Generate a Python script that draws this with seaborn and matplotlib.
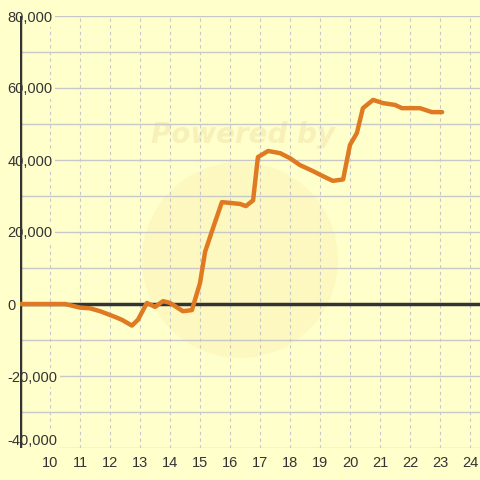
import numpy as np
import pandas as pd
import matplotlib
matplotlib.use('Agg')
import matplotlib.pyplot as plt
import seaborn as sns
from matplotlib.patches import Ellipse

# 数据
hours = [9.0, 9.5, 10.0, 10.5, 11.0, 11.33, 11.67, 12.17, 12.4, 12.73,
         12.93, 13.23, 13.5, 13.77, 14.0, 14.43, 14.73, 15.0, 15.17, 15.43,
         15.73, 16.33, 16.53, 16.77, 16.93, 17.27, 17.67, 18.0, 18.33, 18.77,
         19.1, 19.43, 19.77, 20.0, 20.23, 20.43, 20.77, 21.1, 21.5, 21.73,
         22.33, 22.73, 23.07]
values = [0, 0, 0, 0, -1000, -1200, -2000, -3600, -4400, -6000,
          -4400, 300, -800, 800, 300, -2000, -1700, 5800, 14500, 21000,
          28300, 27800, 27200, 28800, 40800, 42500, 41900, 40500, 38600, 36900,
          35500, 34200, 34600, 44200, 47500, 54400, 56700, 55800, 55300, 54400,
          54400, 53300, 53300]

y_ticks = [80000, 60000, 40000, 20000, 0, -20000, -40000]
x_ticks = list(range(10, 25))

df = pd.DataFrame({'hour': hours, 'value': values})

BG = '#FFFFCC'
GRID = '#C8C8C8'
sns.set_theme(style='white')
plt.rcParams['font.family'] = ['Liberation Sans', 'DejaVu Sans']

fig = plt.figure(figsize=(4.8, 4.8), dpi=100, facecolor=BG)
ax = fig.add_axes([20 / 480, 1 - 448 / 480, 460 / 480, 432 / 480])
ax.set_facecolor(BG)

# 水印
ax.add_patch(Ellipse((240 / 480, 1 - 260 / 480), 196 / 480, 196 / 480,
                     transform=fig.transFigure, facecolor='#FCF7BC',
                     edgecolor='none', alpha=0.8, zorder=0.3))
ax.text(243 / 480, 1 - 135 / 480, 'Powered by', transform=fig.transFigure,
        ha='center', va='center', fontsize=20, fontweight='bold',
        fontstyle='italic', color='#F7F0B8', zorder=0.4,
        family=['DejaVu Sans'])

ax.set_xlim(9, 9 + 460 / 30)
ax.set_ylim(-40000, 80000)

# 网格
ax.set_yticks(range(-40000, 80001, 10000), minor=True)
ax.grid(True, axis='y', which='minor', color=GRID, linewidth=1.0)
ax.grid(True, axis='y', which='major', color=GRID, linewidth=1.0)
ax.set_xticks(x_ticks)
ax.grid(True, axis='x', which='major', color=GRID, linewidth=0.8,
        linestyle=(0, (3, 3)))

ax.set_yticks(y_ticks)
ax.set_yticklabels([f'{v:,}' for v in y_ticks])
ax.set_xticklabels([str(t) for t in x_ticks])
ax.tick_params(axis='both', length=0, colors='#333333', labelsize=10.5)
ax.tick_params(axis='x', pad=6)
ax.tick_params(axis='y', pad=9)
for lab in ax.get_yticklabels():
    lab.set_horizontalalignment('left')
    lab.set_bbox(dict(facecolor=BG, edgecolor='none', pad=1.5))
ax.get_yticklabels()[-1].set_verticalalignment('bottom')

for s in ax.spines.values():
    s.set_visible(False)

# y 轴和零线
ax.axvline(9, color='#333333', linewidth=2.5, zorder=1.2)
ax.axhline(0, color='#333333', linewidth=2.5, zorder=1.8)

sns.lineplot(data=df, x='hour', y='value', ax=ax, color='#E07A22',
             linewidth=3.2, zorder=3)
ax.set_xlabel('')
ax.set_ylabel('')

fig.savefig('out.png', dpi=100, facecolor=BG)
